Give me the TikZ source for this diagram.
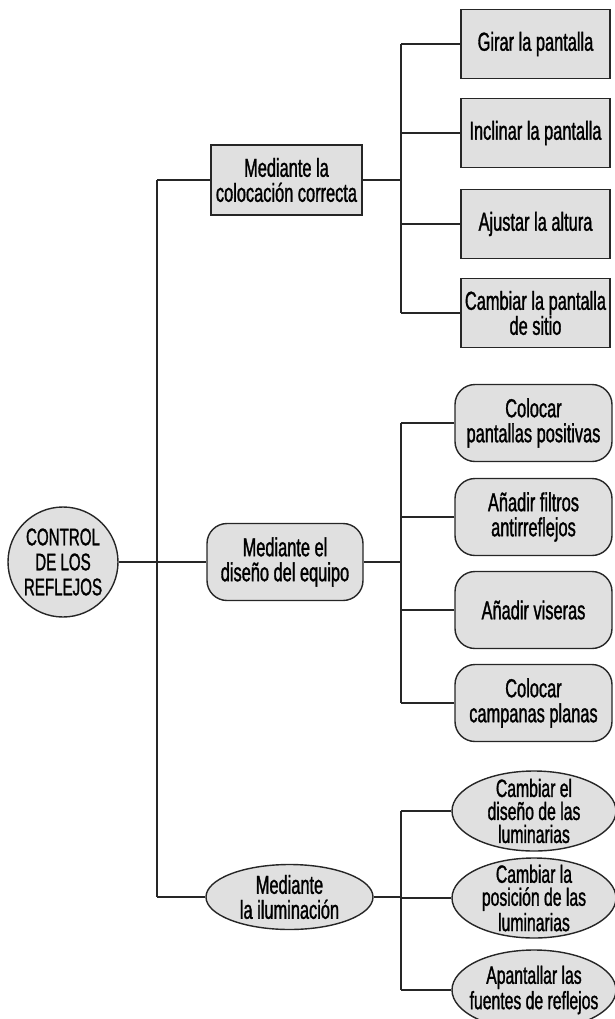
\documentclass[tikz,border=0pt]{standalone}
\usepackage{fontspec}
\setmainfont{Liberation Sans}[FakeStretch=0.63, FakeBold=1.2]
\usetikzlibrary{shapes.geometric}

\begin{document}
\begin{tikzpicture}[x=0.5pt,y=-0.5pt,line width=0.7pt,draw=black!85]
    \tikzstyle{box}=[draw=black!85, fill=black!12, align=center, inner sep=0pt, font=\fontsize{13}{12.5}\selectfont]
    \tikzstyle{root}=[box, circle, minimum size=55pt, font=\fontsize{12}{12.5}\selectfont]
    \tikzstyle{sq box}=[box, rectangle, minimum width=74.5pt, minimum height=34.5pt]
    \tikzstyle{round box}=[box, rectangle, rounded corners=10pt, minimum width=78.5pt, minimum height=38.5pt]
    \tikzstyle{oval}=[box, ellipse, minimum width=82pt, minimum height=40pt]
    \tikzstyle{oval text}=[align=center, inner sep=0pt, font=\fontsize{12.5}{11.5}\selectfont]

    \useasboundingbox (0,0) rectangle (615,1019);

%    trunk and branch columns
	\coordinate (T) at (157,0);
	\coordinate (B) at (401,0);

	\node[root] (ctrl) at (63,562) {CONTROL\\DE LOS\\REFLEJOS};

	\node[sq box, minimum width=75.5pt, minimum height=35pt] (col) at (286.5,180) {Mediante la\\colocación correcta};
	\node[round box, minimum width=78pt] (dis) at (285,562) {Mediante el\\diseño del equipo};
	\node[oval, minimum width=83.5pt, minimum height=32.5pt,
	      label={[oval text, font=\fontsize{13}{12.5}\selectfont]center:Mediante\\la iluminación}] (ilu) at (289.5,897) {};

		 \node[sq box] (gir) at (535.5,44) {Girar la pantalla};
		 \node[sq box] (inc) at (535.5,133) {Inclinar la pantalla};
		 \node[sq box] (alt) at (535.5,224) {Ajustar la altura};
		 \node[sq box] (sit) at (535.5,313) {Cambiar la pantalla\\de sitio};

		 \node[round box] (pos) at (533.5,423) {Colocar\\pantallas positivas};
		 \node[round box] (fil) at (533.5,517) {Añadir filtros\\antirreflejos};
		 \node[round box] (vis) at (533.5,610) {Añadir viseras};
		 \node[round box] (cam) at (533.5,703) {Colocar\\campanas planas};

		 \node[oval, label={[oval text]center:Cambiar el\\diseño de las\\luminarias}] (lum) at (534,811) {};
		 \node[oval, label={[oval text]center:Cambiar la\\posición de las\\luminarias}] (lpos) at (534,898) {};
		 \node[oval, label={[oval text]center:Apantallar las\\fuentes de reflejos}] (fue) at (534,990) {};

	\draw (ctrl) -- (dis);
	\draw (col -| T) -- (ilu -| T);
	\draw (col) -- (col -| T);
	\draw (ilu) -- (ilu -| T);

	\draw (col) -- (col -| B);
	\draw (dis) -- (dis -| B);
	\draw (ilu) -- (ilu -| B);
	\draw (gir -| B) -- (sit -| B);
	\draw (pos -| B) -- (cam -| B);
	\draw (lum -| B) -- (fue -| B);
	\foreach \n in {gir,inc,alt,sit,pos,fil,vis,cam,lum,lpos,fue}
		\draw (\n) -- (\n -| B);

\end{tikzpicture}
\end{document}
